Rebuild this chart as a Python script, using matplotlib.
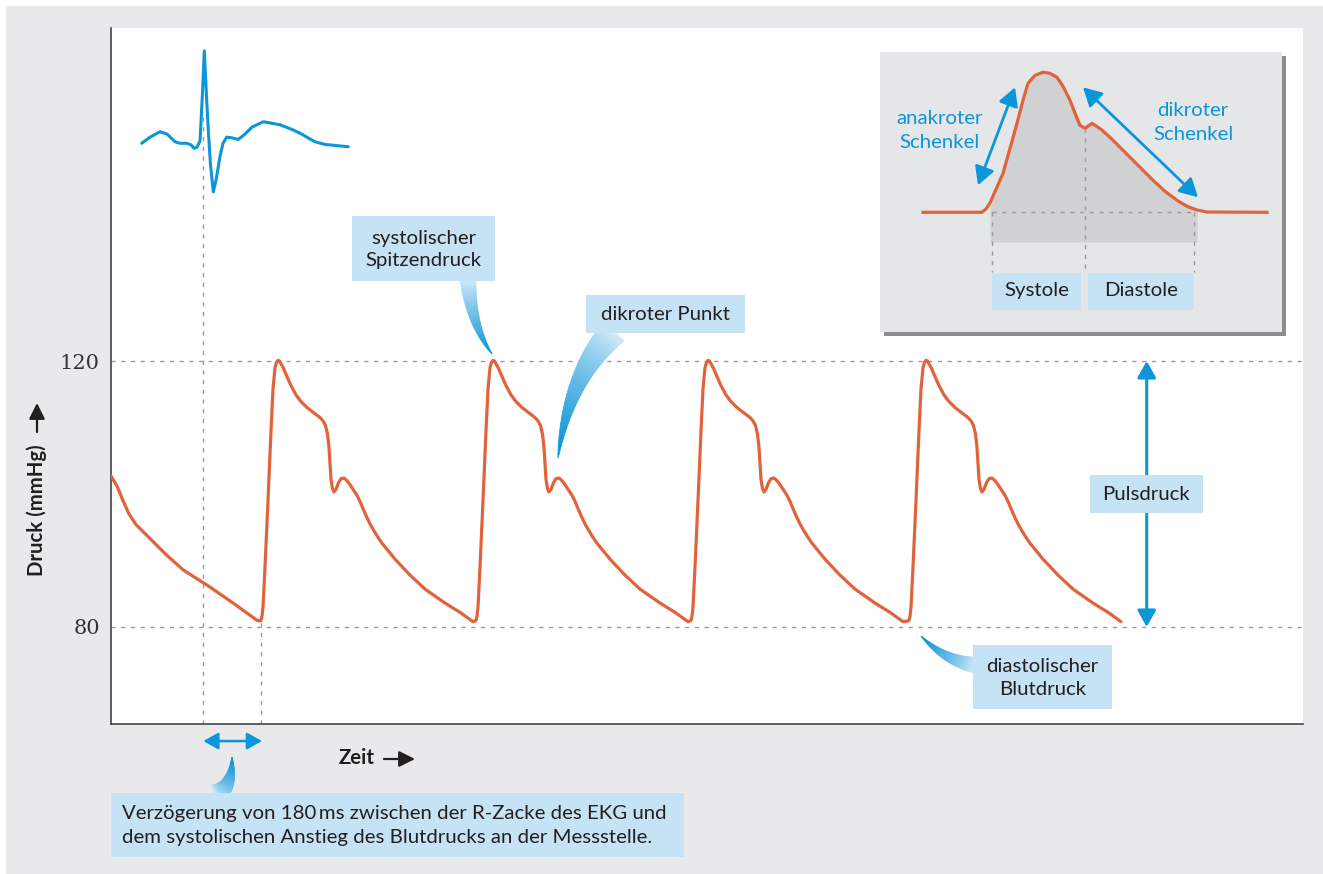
import numpy as np
import matplotlib
matplotlib.use("Agg")
import matplotlib.pyplot as plt
from matplotlib.patches import Rectangle, Polygon

plt.rcParams['font.family'] = ['Lato', 'DejaVu Sans']

# --- data -------------------------------------------------------------
# time axis in arbitrary units (0 = left edge of the plot), pressure in mmHg
lead_t = [0, 6, 12, 18, 25, 39, 55, 72, 99, 124, 146]
lead_p = [102.7, 101.2, 99.0, 97.0, 95.4, 93.3, 90.9, 88.6, 86.0, 83.4, 81.0]

beat_onsets = [149, 364, 579, 797]
beat_phase = [0, 1, 2, 3, 5, 8, 11, 13, 15, 16.5, 18, 19.5, 21, 23.5, 26, 31, 36, 41, 47, 54,
              60, 63, 65.5, 67.5, 69, 70, 71, 72.5, 74, 76, 78.5, 81, 84, 87, 90, 94, 97, 100, 103, 106.5,
              110, 113, 117, 122, 128, 135, 150, 165, 185, 200, 213]
beat_p = [80.9, 81.0, 81.6, 83.0, 89.0, 99.0, 109.5, 115.8, 119.0, 119.8, 120.1, 120.0, 119.6, 118.9, 118.0, 116.3, 114.9, 113.9, 113.0, 112.2,
          111.5, 111.0, 110.3, 109.0, 107.0, 104.5, 102.2, 100.8, 100.3, 100.7, 101.7, 102.3, 102.4, 102.0, 101.4, 100.5, 99.8, 98.9, 97.8, 96.6,
          95.5, 94.7, 93.7, 92.6, 91.5, 90.2, 87.8, 85.7, 83.6, 82.2, 80.8]

# EKG (mV) on the same time axis
ekg_t = [30.7, 39, 49, 56, 64, 69, 75.7, 80, 83, 86, 89, 91.3, 93.3, 95.5, 97.3, 99.5, 102.3,
         105, 109, 112, 115.7, 121, 127.3, 134, 141, 152.3, 161, 169, 181, 190.7, 197, 204, 214, 237.3]
ekg_mv = [0, 0.08, 0.15, 0.12, 0.02, 0, 0, -0.02, -0.065, -0.05, 0.03, 0.605, 1.2, 0.605, 0.17, -0.28, -0.63,
          -0.48, -0.17, 0, 0.08, 0.07, 0.05, 0.12, 0.21, 0.28, 0.26, 0.24, 0.18, 0.12, 0.07, 0.02, -0.015, -0.045]
r_wave_t = 92.3

# inset: single pressure curve (relative units)
ins_t = [0, 58.7, 63, 67, 73, 80, 87, 94, 100, 105, 112, 120, 127, 134, 140, 147, 154, 157, 162, 169,
         178, 187, 197, 207, 218, 230, 242, 254, 264, 274, 284, 344]
ins_p = [0, 0, 3.3, 9.3, 23, 39, 64, 89, 112, 129, 137, 140, 139, 135, 126, 112, 94, 87, 84, 89,
         83, 75, 65, 55, 44, 32, 21, 12, 6, 2.3, 0.3, 0]
sys_start, notch_t, dia_end = 69, 162, 271

ORANGE = '#e0633b'
BLUE = '#0a96d8'
BOX = '#c6e2f5'
TXT = '#231f20'
GRID = '#9a9a9a'
FS = 14.7

W, H = 1323, 874
fig = plt.figure(figsize=(W / 100, H / 100), dpi=100)
fig.patch.set_facecolor('white')
fig.add_artist(Rectangle((6 / W, 0), 1, 1 - 6 / H, transform=fig.transFigure,
                         color='#e9e9ec', zorder=-1))


def px_rect(x0, y0, x1, y1):
    return [x0 / W, 1 - y1 / H, (x1 - x0) / W, (y1 - y0) / H]


# --- main axes ------------------------------------------------------------
ax = fig.add_axes(px_rect(111, 28, 1303, 724))
ax.set_facecolor('white')
ax.set_xlim(0, 1192)
ax.set_ylim(65.41, 170.08)
for s in ['top', 'right']:
    ax.spines[s].set_visible(False)
for s in ['left', 'bottom']:
    ax.spines[s].set_color('#444444')
    ax.spines[s].set_linewidth(1.2)
ax.set_xticks([])
ax.set_yticks([80, 120])
ax.set_yticklabels(['80', '120'], fontfamily='DejaVu Serif', fontsize=15, color='#333333')
ax.tick_params(axis='y', length=0, pad=8)

dots = (0, (3, 4))
ax.axhline(120, color=GRID, lw=1, ls=dots, zorder=1)
ax.axhline(80, color=GRID, lw=1, ls=dots, zorder=1)
ax.plot([r_wave_t, r_wave_t], [65.41, 157.5], color=GRID, lw=1, ls=dots, zorder=1)
ax.plot([beat_onsets[0] + 0.5] * 2, [65.41, 80.6], color=GRID, lw=1, ls=dots, zorder=1)

t_all = list(lead_t)
p_all = list(lead_p)
for onset in beat_onsets:
    t_all += [onset + ph for ph in beat_phase]
    p_all += beat_p
ax.plot(t_all, p_all, color=ORANGE, lw=2.3, solid_joinstyle='round', solid_capstyle='round', zorder=3)

# pulse pressure arrow
ax.annotate('', xy=(1035.7, 120), xytext=(1035.7, 80),
            arrowprops=dict(arrowstyle='<|-|>,head_length=0.5,head_width=0.28', mutation_scale=20,
                            color=BLUE, lw=2.2, shrinkA=0, shrinkB=0), zorder=4)

# delay arrow below the axis
ax.annotate('', xy=(r_wave_t, -0.0245), xytext=(beat_onsets[0] + 2, -0.0245),
            xycoords=ax.get_xaxis_transform(), textcoords=ax.get_xaxis_transform(),
            arrowprops=dict(arrowstyle='<|-|>,head_length=0.5,head_width=0.28', mutation_scale=18,
                            color=BLUE, lw=1.8, shrinkA=0, shrinkB=0), annotation_clip=False)

# EKG on a twin y-axis
tw = ax.twinx()
tw.set_ylim(-7.54, 1.497)
tw.axis('off')
tw.plot(ekg_t, ekg_mv, color=BLUE, lw=2.2, solid_joinstyle='round', solid_capstyle='round')

# --- overlay in pixel coordinates for labels and pointers -----------------
ov = fig.add_axes([0, 0, 1, 1])
ov.set_xlim(0, W)
ov.set_ylim(H, 0)
ov.axis('off')
ov.set_zorder(3)


def mix(c1, c2, f):
    a = np.array(matplotlib.colors.to_rgb(c1))
    b = np.array(matplotlib.colors.to_rgb(c2))
    return tuple(a + (b - a) * f)


def pointer(p0, p1, p2, w0, n=40):
    p0, p1, p2 = map(np.array, (p0, p1, p2))
    t = np.linspace(0, 1, n + 1)[:, None]
    pts = (1 - t) ** 2 * p0 + 2 * (1 - t) * t * p1 + t ** 2 * p2
    d = 2 * (1 - t) * (p1 - p0) + 2 * t * (p2 - p1)
    nrm = np.column_stack([-d[:, 1], d[:, 0]]) / np.linalg.norm(d, axis=1)[:, None]
    w = (w0 / 2) * (1 - t[:, 0]) ** 0.9
    left = pts + nrm * w[:, None]
    right = pts - nrm * w[:, None]
    for i in range(n):
        c = mix('#d6ebf9', '#0091d5', (i / n) ** 0.8)
        ov.add_patch(Polygon([left[i], left[i + 1], right[i + 1], right[i]], closed=True,
                             facecolor=c, edgecolor=c, lw=0.6, zorder=2))


def label_box(x0, y0, x1, y1, text, ha='center', ls=1.4):
    ov.add_patch(Rectangle((x0, y0), x1 - x0, y1 - y0, facecolor=BOX, edgecolor='none', zorder=3))
    if ha == 'center':
        ov.text((x0 + x1) / 2, (y0 + y1) / 2 + 1, text, ha='center', va='center', fontsize=FS,
                color=TXT, linespacing=ls, zorder=4)
    else:
        ov.text(x0 + 11, (y0 + y1) / 2 + 1, text, ha='left', va='center', fontsize=FS,
                color=TXT, linespacing=ls, zorder=4)


pointer((468, 279), (471, 325), (492, 354), 16)
label_box(352, 216, 495, 281, 'systolischer\nSpitzendruck')

pointer((614, 331), (568, 378), (558, 458), 28)
label_box(586, 295, 745, 333, 'dikroter Punkt')

pointer((975, 665), (945, 661), (921, 636), 16)
label_box(973, 645, 1112, 709, 'diastolischer\nBlutdruck')

label_box(1090, 475, 1203, 513, 'Pulsdruck')

pointer((215, 795), (233, 787), (232, 757), 22)
label_box(111, 793, 684, 857,
          'Verzögerung von 180\u2009ms zwischen der R-Zacke des EKG und\n'
          'dem systolischen Anstieg des Blutdrucks an der Messstelle.', ha='left', ls=1.5)

# axis titles
ov.text(339, 758, 'Zeit', fontsize=FS, fontweight='bold', color=TXT, ha='left', va='center')
ov.annotate('', xy=(415, 759), xytext=(384, 759),
            arrowprops=dict(arrowstyle='-|>,head_length=0.6,head_width=0.3', mutation_scale=16,
                            color=TXT, lw=1.6, shrinkA=0, shrinkB=0))
ov.text(37, 510, 'Druck (mmHg)', fontsize=FS, fontweight='bold', color=TXT, rotation=90,
        ha='center', va='center')
ov.annotate('', xy=(37, 403), xytext=(37, 432),
            arrowprops=dict(arrowstyle='-|>,head_length=0.6,head_width=0.3', mutation_scale=16,
                            color=TXT, lw=1.6, shrinkA=0, shrinkB=0))

# inset shadow
ov.add_patch(Rectangle((884, 56), 402, 280, facecolor='#8c8c8e', edgecolor='none', zorder=1))

# --- inset ----------------------------------------------------------------
ins = fig.add_axes(px_rect(880, 52, 1282, 332))
ins.set_zorder(4)
ins.set_facecolor('#e5e6e8')
ins.set_xlim(-43, 359)
ins.set_ylim(-119.7, 160.3)
ins.set_xticks([])
ins.set_yticks([])
for s in ins.spines.values():
    s.set_visible(False)

it = np.array(ins_t)
ip = np.array(ins_p)
m = (it >= 67) & (it <= 274)
ins.fill_between(it[m], -29.7, ip[m], color='#d0d1d3', lw=0, zorder=1)
ins.plot([sys_start, dia_end], [0, 0], color=GRID, lw=1, ls=dots, zorder=2)
for xv, ytop in [(sys_start, 0), (notch_t, 84), (dia_end, 0)]:
    ins.plot([xv, xv], [ytop, -59.4], color=GRID, lw=1, ls=dots, zorder=2)
ins.plot(ins_t, ins_p, color=ORANGE, lw=2.3, solid_joinstyle='round', zorder=3)

ins.add_patch(Rectangle((sys_start, -97.7), 89, 37, facecolor=BOX, edgecolor='none'))
ins.add_patch(Rectangle((165, -97.7), 106, 37, facecolor=BOX, edgecolor='none'))
ins.text(69 + 44.5, -78, 'Systole', ha='center', va='center', fontsize=FS, color=TXT)
ins.text(165 + 53, -78, 'Diastole', ha='center', va='center', fontsize=FS, color=TXT)

ins.text(17, 82, 'anakroter\nSchenkel', ha='center', va='center', fontsize=FS, color=BLUE,
         linespacing=1.5)
ins.text(270, 90, 'dikroter\nSchenkel', ha='center', va='center', fontsize=FS, color=BLUE,
         linespacing=1.5)
arrow_kw = dict(arrowstyle='<|-|>,head_length=0.55,head_width=0.3', mutation_scale=20,
                color=BLUE, lw=2.0, shrinkA=0, shrinkB=0)
ins.annotate('', xy=(92, 125), xytext=(55, 27), arrowprops=arrow_kw)
ins.annotate('', xy=(160, 125), xytext=(275, 15), arrowprops=arrow_kw)

fig.savefig('out.png', dpi=100, facecolor=fig.get_facecolor())
